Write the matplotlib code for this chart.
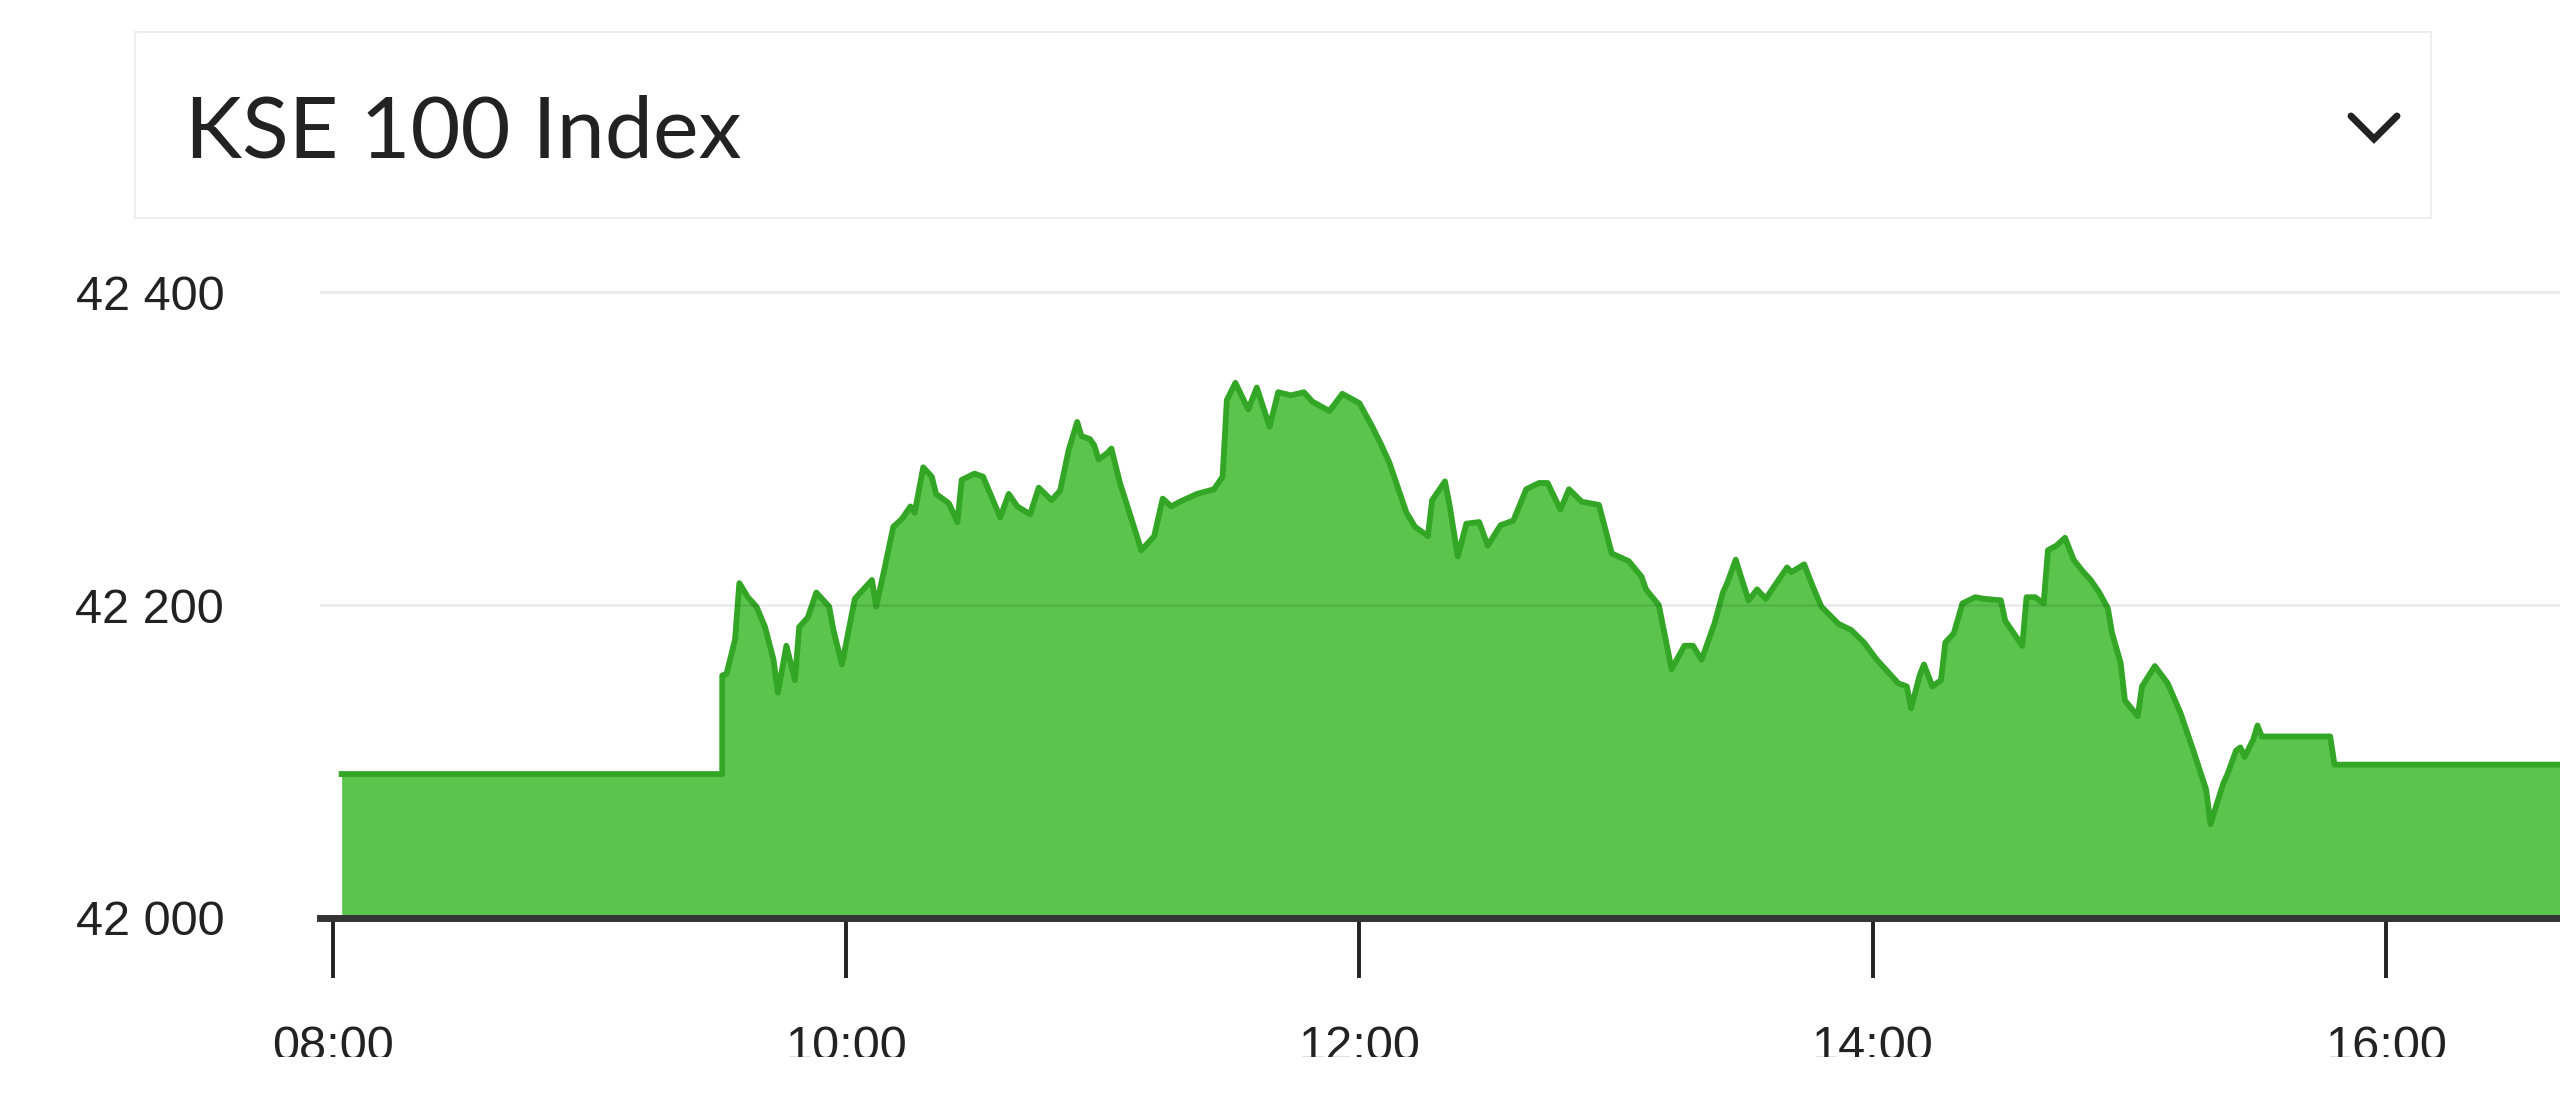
import matplotlib.pyplot as plt
from matplotlib.patches import Rectangle
from matplotlib.lines import Line2D
from matplotlib.transforms import Bbox

# KSE 100 intraday values
times = ["08:02", "09:31", "09:31", "09:32", "09:34", "09:35", "09:37", "09:39", "09:41", "09:43",
         "09:44", "09:46", "09:48", "09:49", "09:51", "09:53", "09:56", "09:57", "09:59", "10:02",
         "10:06", "10:07", "10:09", "10:11", "10:13", "10:15", "10:16", "10:18", "10:20", "10:21",
         "10:24", "10:26", "10:27", "10:30", "10:32", "10:34", "10:36", "10:38", "10:40", "10:43",
         "10:45", "10:48", "10:50", "10:52", "10:54", "10:55", "10:57", "10:58", "10:59", "11:01",
         "11:02", "11:04", "11:06", "11:09", "11:12", "11:14", "11:16", "11:18", "11:22", "11:26",
         "11:28", "11:29", "11:31", "11:34", "11:36", "11:39", "11:41", "11:44", "11:47", "11:49",
         "11:53", "11:56", "12:00", "12:03", "12:05", "12:07", "12:11", "12:13", "12:16", "12:17",
         "12:20", "12:21", "12:23", "12:25", "12:28", "12:30", "12:33", "12:36", "12:39", "12:42",
         "12:44", "12:47", "12:49", "12:52", "12:56", "12:59", "13:03", "13:06", "13:07", "13:10",
         "13:13", "13:16", "13:18", "13:20", "13:23", "13:25", "13:26", "13:28", "13:29", "13:31",
         "13:33", "13:35", "13:37", "13:40", "13:41", "13:44", "13:46", "13:48", "13:52", "13:55",
         "13:58", "14:01", "14:04", "14:06", "14:08", "14:09", "14:11", "14:12", "14:14", "14:16",
         "14:17", "14:19", "14:21", "14:24", "14:26", "14:30", "14:31", "14:33", "14:35", "14:36",
         "14:38", "14:40", "14:41", "14:43", "14:45", "14:47", "14:49", "14:51", "14:53", "14:55",
         "14:56", "14:58", "14:59", "15:02", "15:03", "15:06", "15:09", "15:12", "15:15", "15:18",
         "15:19", "15:22", "15:23", "15:25", "15:26", "15:27", "15:29", "15:30", "15:31", "15:47",
         "15:48", "16:45"]
values = [42092, 42092, 42155, 42156, 42178, 42214, 42205, 42199, 42186, 42165,
          42144, 42174, 42152, 42186, 42192, 42208, 42199, 42184, 42162, 42204,
          42216, 42199, 42224, 42250, 42255, 42263, 42259, 42288, 42282, 42271,
          42265, 42253, 42280, 42284, 42282, 42269, 42256, 42271, 42263, 42258,
          42275, 42267, 42273, 42299, 42317, 42308, 42306, 42302, 42293, 42297,
          42300, 42278, 42261, 42235, 42244, 42268, 42263, 42266, 42271, 42274,
          42282, 42331, 42342, 42325, 42339, 42314, 42336, 42334, 42336, 42330,
          42324, 42335, 42329, 42314, 42303, 42291, 42259, 42250, 42244, 42267,
          42279, 42265, 42231, 42252, 42253, 42238, 42251, 42254, 42274, 42278,
          42278, 42261, 42274, 42266, 42264, 42233, 42228, 42218, 42210, 42200,
          42159, 42174, 42174, 42165, 42188, 42208, 42214, 42229, 42220, 42203,
          42210, 42204, 42212, 42224, 42221, 42226, 42212, 42199, 42188, 42184,
          42176, 42165, 42156, 42150, 42148, 42134, 42155, 42162, 42148, 42152,
          42176, 42182, 42201, 42205, 42204, 42203, 42190, 42182, 42174, 42205,
          42205, 42201, 42235, 42238, 42243, 42229, 42222, 42216, 42208, 42198,
          42182, 42163, 42139, 42129, 42148, 42161, 42150, 42131, 42107, 42082,
          42060, 42086, 42092, 42107, 42109, 42103, 42114, 42123, 42116, 42116,
          42098, 42098]

x_ticks = [8, 10, 12, 14, 16]
x_labels = ["08:00", "10:00", "12:00", "14:00", "16:00"]
y_ticks = [42000, 42200, 42400]
y_labels = ["42 000", "42 200", "42 400"]
title = "KSE 100 Index"


def to_hours(s):
    h, m = s.split(":")
    return int(h) + int(m) / 60


hours = [to_hours(t) for t in times]

W, H = 2560, 1114
fig = plt.figure(figsize=(W / 100, H / 100), dpi=100)
fig.patch.set_facecolor("white")

# header box with the index name and dropdown chevron
box = Rectangle((135 / W, 1 - 218 / H), (2431 - 135) / W, (218 - 32) / H,
                transform=fig.transFigure, facecolor="white", edgecolor="#eeeeee", lw=1.5)
fig.patches.append(box)
fig.text(185 / W, 1 - 158 / H, title, fontsize=62, family="Lato", color="#222222",
         ha="left", va="baseline")
chev = Line2D([2351 / W, 2374 / W, 2397 / W], [1 - 116 / H, 1 - 139 / H, 1 - 116 / H],
              transform=fig.transFigure, color="#222222", lw=5,
              solid_joinstyle="miter", solid_capstyle="round")
fig.lines.append(chev)

ax = fig.add_axes([320 / W, 196 / H, 1 - 320 / W, (918 - 278) / H])
ax.set_xlim(7.949, 16.679)
ax.set_ylim(42000, 42409)

ax.fill_between(hours, values, 42000, color="#5BC44C", lw=0, zorder=2)
ax.plot(hours, values, color="#33A626", lw=4.2, zorder=3, solid_joinstyle="round")

for yv in y_ticks[1:]:
    ax.axhline(yv, color="black", alpha=0.08, lw=2, zorder=4)

for s in ["top", "right", "left"]:
    ax.spines[s].set_visible(False)
ax.spines["bottom"].set_color("#333333")
ax.spines["bottom"].set_linewidth(5)
ax.spines["bottom"].set_zorder(5)

ax.set_xticks(x_ticks)
ax.set_xticklabels(x_labels)
ax.set_yticks(y_ticks)
ax.set_yticklabels(y_labels)
ax.tick_params(axis="x", length=43, width=2.8, color="#222222", pad=34,
               labelsize=35, labelcolor="#222222")
ax.tick_params(axis="y", length=0, pad=69, labelsize=35, labelcolor="#222222")
for lbl in ax.get_xticklabels() + ax.get_yticklabels():
    lbl.set_family("Liberation Sans")

# the tick labels are cut off at the bottom in the original
clip = Bbox([[0, H - 1057], [W, H]])
for lbl in ax.get_xticklabels():
    lbl.set_clip_box(clip)
    lbl.set_clip_on(True)

fig.savefig("out.png", dpi=100, facecolor="white")
